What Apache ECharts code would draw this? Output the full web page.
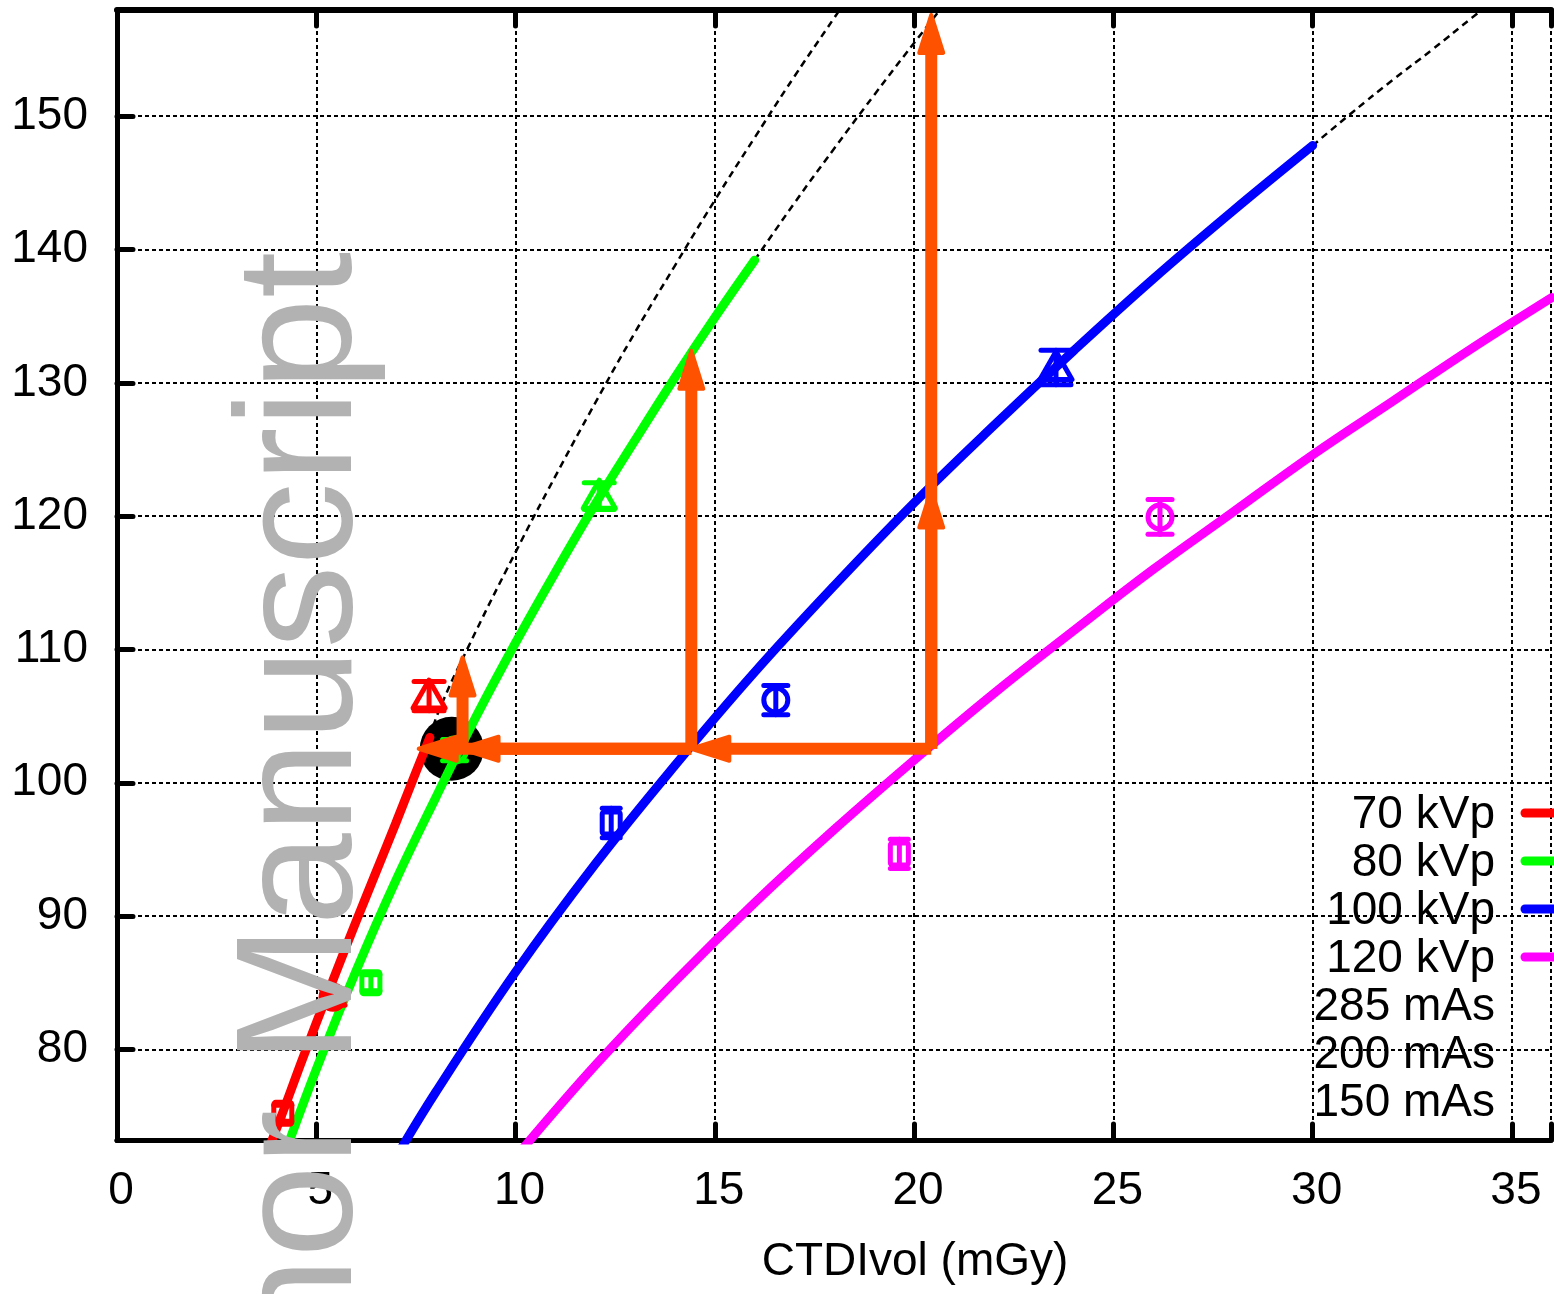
<!doctype html>
<html lang="en">
<head>
    <meta charset="UTF-8">
    <title>CTDIvol chart</title>
    <style>
        html, body { margin: 0; padding: 0; background: #fff; }
        #main { width: 1554px; height: 1294px; }
    </style>
    <script src="https://cdn.jsdelivr.net/npm/echarts@6/dist/echarts.min.js"></script>
</head>
<body>
    <div id="main"></div>
    <script>
        // fitted curves (solid part)
        var red70 = [[3.7, 71.7], [4.2, 75.6], [4.67, 79.4], [5.38, 84.9], [6.0, 89.6], [6.5, 93.3], [7.0, 97.0], [7.5, 100.8], [7.85, 103.4]];
        var green80 = [[4.2, 72.1], [5, 78.5], [6, 85.9], [7, 92.7], [8, 98.9], [9, 104.9], [10, 110.5], [11, 115.8], [12, 120.9], [13, 125.7], [14, 130.4], [15, 134.9], [16, 139.2]];
        var blue100 = [[7, 71.9], [8, 76.8], [10, 85.8], [12, 93.9], [14, 101.3], [16, 108.3], [18, 114.8], [20, 121.0], [22, 126.8], [24, 132.4], [26, 137.8], [28, 142.9], [30, 147.8]];
        var magenta120 = [[10, 71.9], [12, 78.8], [14, 85.1], [16, 91.0], [18, 96.5], [20, 101.7], [22, 106.7], [24, 111.4], [26, 116.0], [28, 120.3], [30, 124.6], [32, 128.6], [34, 132.6], [36, 136.4]];

        // dashed extrapolations
        var redExt = [[7.85, 103.4], [8.09, 105.5], [8.8, 110.1], [10, 117.3], [11, 123.0], [12, 128.5], [13, 133.8], [14, 138.8], [15, 143.7], [16, 148.4], [17, 153.0], [18, 157.4], [18.5, 159.6]];
        var greenExt = [[16, 139.2], [17, 143.5], [18, 147.6], [19, 151.6], [20, 155.5], [21, 159.3]];
        var blueExt = [[30, 147.8], [31, 150.3], [32, 152.7], [33, 155.0], [34, 157.4], [35, 159.8]];

        // measured points: [x, y, error, shape]  shape 0 = square (150 mAs), 1 = circle (200 mAs), 2 = triangle (285 mAs)
        var redPts = [[4.16, 75.2, 0.6, 0], [5.42, 83.9, 0.6, 1], [7.83, 106.5, 1.1, 2]];
        var greenPts = [[6.37, 85.0, 0.6, 0], [8.47, 102.45, 0.8, 1], [12.1, 121.5, 1.0, 2]];
        var bluePts = [[12.4, 96.98, 1.1, 0], [16.53, 106.2, 1.1, 1], [23.56, 131.15, 1.3, 2]];
        var magentaPts = [[19.63, 94.66, 1.1, 0], [26.17, 119.94, 1.3, 1]];

        // working point and arrows [x1, y1, x2, y2]
        var workPoint = [[8.4, 102.55]];
        var arrows = [
            [20.43, 102.55, 14.41, 102.55],
            [14.41, 102.55, 8.62, 102.55],
            [14.41, 102.55, 7.57, 102.55],
            [8.67, 102.55, 8.67, 109.4],
            [14.41, 102.55, 14.41, 132.4],
            [20.43, 102.55, 20.43, 122.0],
            [20.43, 102.55, 20.43, 157.6]
        ];

        var legendNames = ['70 kVp', '80 kVp', '100 kVp', '120 kVp', '285 mAs', '200 mAs', '150 mAs'];
        var colors = ['#ff0000', '#00ff00', '#0000ff', '#ff00ff'];
        var xTicks = [0, 5, 10, 15, 20, 25, 30, 35];
        var yTicks = [80, 90, 100, 110, 120, 130, 140, 150];

        var FONT = '"Liberation Sans", Arial, Helvetica, sans-serif';
        var ORANGE = '#ff5200';

        window.onload = function () {
            var chartDom = document.getElementById('main');
            var myChart = echarts.init(chartDom);

            function curve(data, color) {
                return {
                    type: 'line', data: data, smooth: 0.4, showSymbol: false, symbol: 'none',
                    lineStyle: { color: color, width: 9, cap: 'round' }, z: 3, silent: true
                };
            }
            function dashed(data) {
                return {
                    type: 'line', data: data, smooth: true, showSymbol: false, symbol: 'none',
                    lineStyle: { color: '#000', width: 2.5, type: [7, 5] }, z: 2, silent: true
                };
            }
            function points(data, color) {
                return {
                    type: 'custom',
                    data: data,
                    encode: { x: 0, y: 1 },
                    z: 4,
                    silent: true,
                    renderItem: function (params, api) {
                        var x = api.value(0), y = api.value(1), e = api.value(2), s = api.value(3);
                        var c = api.coord([x, y]);
                        var top = api.coord([x, y + e]);
                        var bot = api.coord([x, y - e]);
                        var st = { stroke: color, fill: 'none', lineWidth: 5, lineCap: 'round', lineJoin: 'round' };
                        var cap = s === 2 ? 15 : (s === 1 ? 12 : 9);
                        var kids = [
                            { type: 'line', shape: { x1: c[0], y1: top[1], x2: c[0], y2: bot[1] }, style: st },
                            { type: 'line', shape: { x1: c[0] - cap, y1: top[1], x2: c[0] + cap, y2: top[1] }, style: st },
                            { type: 'line', shape: { x1: c[0] - cap, y1: bot[1], x2: c[0] + cap, y2: bot[1] }, style: st }
                        ];
                        if (s === 0) {
                            kids.push({ type: 'rect', shape: { x: c[0] - 9, y: c[1] - 11, width: 18, height: 22, r: 2 }, style: st });
                        } else if (s === 1) {
                            kids.push({ type: 'circle', shape: { cx: c[0], cy: c[1], r: 12 }, style: st });
                        } else {
                            kids.push({ type: 'polygon', shape: { points: [[c[0], c[1] - 16], [c[0] + 16, c[1] + 12], [c[0] - 16, c[1] + 12]] }, style: st });
                        }
                        return { type: 'group', children: kids };
                    }
                };
            }

            var arrowSeries = {
                type: 'custom',
                data: arrows,
                encode: { x: [0, 2], y: [1, 3] },
                z: 6,
                silent: true,
                renderItem: function (params, api) {
                    var p1 = api.coord([api.value(0), api.value(1)]);
                    var p2 = api.coord([api.value(2), api.value(3)]);
                    var dx = p2[0] - p1[0], dy = p2[1] - p1[1];
                    var len = Math.sqrt(dx * dx + dy * dy);
                    var ux = dx / len, uy = dy / len;
                    var L = 38, W = 12;
                    var bx = p2[0] - ux * L, by = p2[1] - uy * L;
                    return {
                        type: 'group',
                        children: [
                            { type: 'line', shape: { x1: p1[0], y1: p1[1], x2: bx, y2: by },
                              style: { stroke: ORANGE, lineWidth: 12, lineCap: 'butt' } },
                            { type: 'polygon',
                              shape: { points: [[p2[0], p2[1]], [bx - uy * W, by + ux * W], [bx + uy * W, by - ux * W]] },
                              style: { fill: ORANGE, stroke: ORANGE, lineWidth: 4, lineJoin: 'round' } }
                        ]
                    };
                }
            };

            var legendGraphics = [];
            legendNames.forEach(function (name, i) {
                var yy = 815 + i * 48;
                legendGraphics.push({
                    type: 'text', x: 1495, y: yy, z: 20,
                    style: { text: name, fill: '#000', font: '46px ' + FONT, align: 'right', verticalAlign: 'middle' }
                });
                if (i < 4) {
                    legendGraphics.push({
                        type: 'line', z: 20,
                        shape: { x1: 1525, y1: yy - 2, x2: 1600, y2: yy - 2 },
                        style: { stroke: colors[i], lineWidth: 9, lineCap: 'round' }
                    });
                }
            });

            var option = {
                animation: false,
                backgroundColor: '#fff',
                grid: { left: 117, right: 0, top: 10, bottom: 154 },
                xAxis: [{
                    type: 'value', min: 0, max: 35.98, interval: 5,
                    axisLine: { lineStyle: { color: '#000', width: 5 } },
                    axisTick: { inside: true, length: 16, lineStyle: { color: '#000', width: 5, cap: 'round' } },
                    axisLabel: {
                        color: '#000', fontSize: 46, fontFamily: FONT, margin: 28, padding: [0, 0, 0, 8],
                        formatter: function (v) { return xTicks.indexOf(v) >= 0 ? String(v) : ''; }
                    },
                    splitLine: { show: true, lineStyle: { color: '#000', width: 2, type: [4, 3] } }
                }, {
                    type: 'value', position: 'top', min: 0, max: 35.98, interval: 5,
                    axisLine: { lineStyle: { color: '#000', width: 6 } },
                    axisTick: { inside: true, length: 16, lineStyle: { color: '#000', width: 5, cap: 'round' } },
                    axisLabel: { show: false },
                    splitLine: { show: false }
                }],
                yAxis: {
                    type: 'value', min: 73.2, max: 157.97, splitNumber: 8,
                    axisLine: { show: true, lineStyle: { color: '#000', width: 5 } },
                    axisTick: { show: true, inside: true, length: 16, lineStyle: { color: '#000', width: 5, cap: 'round' } },
                    axisLabel: {
                        color: '#000', fontSize: 46, fontFamily: FONT, margin: 29,
                        formatter: function (v) { return yTicks.indexOf(Math.round(v * 1000) / 1000) >= 0 ? String(Math.round(v)) : ''; }
                    },
                    splitLine: { show: true, lineStyle: { color: '#000', width: 2, type: [4, 3] } }
                },
                series: [
                    {
                        type: 'scatter', data: workPoint, symbol: 'circle', symbolSize: 64,
                        itemStyle: { color: '#000', opacity: 1 }, z: 1, silent: true
                    },
                    dashed(redExt),
                    dashed(greenExt),
                    dashed(blueExt),
                    curve(red70, colors[0]),
                    curve(green80, colors[1]),
                    curve(blue100, colors[2]),
                    curve(magenta120, colors[3]),
                    points(redPts, colors[0]),
                    points(greenPts, colors[1]),
                    points(bluePts, colors[2]),
                    points(magentaPts, colors[3]),
                    arrowSeries
                ],
                graphic: legendGraphics.concat([
                    {
                        type: 'text', x: 915, y: 1262, z: 20,
                        style: { text: 'CTDIvol (mGy)', fill: '#000', font: '46px ' + FONT, align: 'center', verticalAlign: 'middle' }
                    },
                    {
                        type: 'text', x: 388, y: 252, rotation: Math.PI / 2, z: 30, silent: true,
                        style: {
                            text: 'Author Manuscript', fill: '#b2b2b2', font: '166px ' + FONT,
                            align: 'right', verticalAlign: 'bottom', blend: 'multiply'
                        }
                    }
                ])
            };
            myChart.setOption(option);
        };
    </script>
</body>
</html>
